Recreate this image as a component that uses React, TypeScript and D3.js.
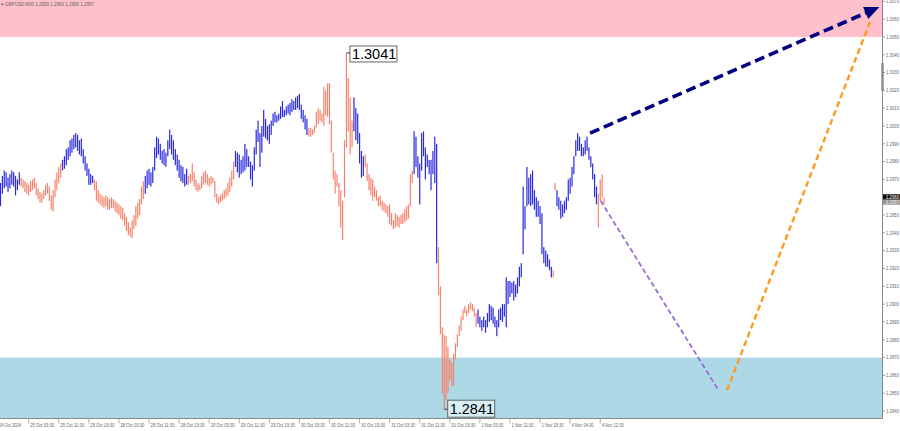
import React from "react";
import * as d3 from "d3";

const highs = [
1.2968,1.2972,1.2975,1.2974,1.2971,1.2973,1.2975,1.2974,1.2972,1.2970,
1.2974,1.2971,1.2970,1.2969,1.2968,1.2967,1.2969,1.2970,1.2971,1.2968,
1.2965,1.2963,1.2962,1.2964,1.2967,1.2968,1.2966,1.2961,1.2964,1.2970,
1.2974,1.2977,1.2979,1.2981,1.2983,1.2987,1.2988,1.2992,1.2993,1.2995,
1.2996,1.2995,1.2992,1.2993,1.2987,1.2983,1.2979,1.2976,1.2973,1.2972,
1.2970,1.2969,1.2964,1.2962,1.2961,1.2960,1.2961,1.2960,1.2959,1.2960,
1.2959,1.2958,1.2957,1.2956,1.2955,1.2954,1.2951,1.2949,1.2946,1.2943,
1.2947,1.2950,1.2955,1.2957,1.2959,1.2966,1.2969,1.2972,1.2975,1.2976,
1.2974,1.2977,1.2988,1.2994,1.2993,1.2990,1.2986,1.2987,1.2985,1.2992,
1.2998,1.2995,1.2992,1.2987,1.2984,1.2981,1.2978,1.2977,1.2973,1.2976,
1.2972,1.2973,1.2979,1.2974,1.2970,1.2968,1.2967,1.2972,1.2974,1.2975,
1.2973,1.2971,1.2972,1.2971,1.2969,1.2962,1.2960,1.2961,1.2962,1.2964,
1.2965,1.2968,1.2971,1.2975,1.2980,1.2986,1.2985,1.2984,1.2981,1.2983,
1.2990,1.2987,1.2983,1.2980,1.2978,1.2988,1.2998,1.3003,1.2996,1.3000,
1.3009,1.3004,1.3000,1.3001,1.3003,1.3007,1.3008,1.3006,1.3007,1.3011,
1.3014,1.3009,1.3011,1.3012,1.3013,1.3015,1.3014,1.3016,1.3017,1.3018,
1.3012,1.3009,1.3006,1.3004,1.2999,1.2999,1.2998,1.3000,1.3008,1.3010,
1.3009,1.3007,1.3022,1.3020,1.3024,1.3024,1.3003,1.2985,1.2975,1.2973,
1.2968,1.2964,1.2958,1.2992,1.3041,1.3027,1.3016,1.3003,1.3016,1.3010,
1.3007,1.2996,1.2986,1.2983,1.2984,1.2979,1.2973,1.2971,1.2970,1.2966,
1.2964,1.2960,1.2961,1.2958,1.2957,1.2956,1.2955,1.2956,1.2951,1.2947,
1.2951,1.2950,1.2949,1.2950,1.2951,1.2953,1.2955,1.2956,1.2973,1.2975,
1.2997,1.2994,1.2983,1.2979,1.2996,1.2997,1.2988,1.2984,1.2981,1.2981,
1.2986,1.2994,1.2990,1.2932,1.2910,1.2887,1.2883,1.2882,1.2876,1.2869,
1.2867,1.2872,1.2878,1.2883,1.2888,1.2893,1.2897,1.2899,1.2897,1.2900,
1.2901,1.2900,1.2898,1.2895,1.2897,1.2893,1.2891,1.2893,1.2891,1.2895,
1.2900,1.2899,1.2898,1.2893,1.2891,1.2897,1.2898,1.2900,1.2900,1.2915,
1.2913,1.2913,1.2912,1.2913,1.2911,1.2915,1.2921,1.2923,1.2966,1.2955,
1.2977,1.2971,1.2973,1.2975,1.2964,1.2960,1.2958,1.2955,1.2951,1.2932,
1.2930,1.2928,1.2925,1.2921,1.2919,1.2968,1.2964,1.2960,1.2958,1.2956,
1.2958,1.2960,1.2970,1.2971,1.2977,1.2983,1.2992,1.2996,1.2994,1.2990,
1.2988,1.2992,1.2994,1.2988,1.2983,1.2979,1.2973,1.2966,1.2962,1.2970,
1.2973,1.2960];

const lows = [
1.2955,1.2962,1.2965,1.2966,1.2963,1.2965,1.2967,1.2966,1.2961,1.2964,
1.2967,1.2966,1.2965,1.2963,1.2962,1.2961,1.2963,1.2964,1.2965,1.2961,
1.2959,1.2957,1.2957,1.2959,1.2961,1.2962,1.2958,1.2953,1.2952,1.2960,
1.2964,1.2968,1.2971,1.2975,1.2976,1.2978,1.2981,1.2983,1.2985,1.2987,
1.2988,1.2986,1.2984,1.2983,1.2979,1.2975,1.2972,1.2967,1.2967,1.2968,
1.2964,1.2958,1.2957,1.2956,1.2955,1.2954,1.2955,1.2953,1.2953,1.2954,
1.2954,1.2952,1.2951,1.2950,1.2948,1.2947,1.2944,1.2941,1.2939,1.2938,
1.2937,1.2942,1.2944,1.2948,1.2950,1.2956,1.2959,1.2962,1.2965,1.2967,
1.2966,1.2968,1.2975,1.2982,1.2984,1.2981,1.2979,1.2978,1.2977,1.2983,
1.2987,1.2984,1.2981,1.2978,1.2975,1.2971,1.2969,1.2968,1.2966,1.2967,
1.2967,1.2968,1.2969,1.2966,1.2964,1.2963,1.2964,1.2965,1.2967,1.2968,
1.2967,1.2966,1.2967,1.2968,1.2960,1.2957,1.2956,1.2957,1.2958,1.2959,
1.2960,1.2961,1.2963,1.2966,1.2970,1.2977,1.2974,1.2971,1.2973,1.2974,
1.2975,1.2977,1.2977,1.2970,1.2966,1.2975,1.2984,1.2991,1.2977,1.2985,
1.2994,1.2993,1.2992,1.2990,1.2995,1.3000,1.3002,1.3002,1.3003,1.3004,
1.3005,1.3005,1.3006,1.3007,1.3006,1.3008,1.3009,1.3009,1.3010,1.3009,
1.3004,1.3002,1.2998,1.2995,1.2994,1.2994,1.2995,1.2996,1.2999,1.3001,
1.3003,1.3002,1.3000,1.3006,1.3005,1.3001,1.2985,1.2970,1.2962,1.2966,
1.2955,1.2943,1.2936,1.2960,1.2988,1.2997,1.2984,1.2988,1.2997,1.2992,
1.2990,1.2979,1.2971,1.2972,1.2977,1.2969,1.2964,1.2961,1.2958,1.2960,
1.2958,1.2955,1.2955,1.2953,1.2952,1.2951,1.2949,1.2945,1.2944,1.2942,
1.2943,1.2944,1.2943,1.2945,1.2945,1.2946,1.2947,1.2948,1.2955,1.2968,
1.2973,1.2977,1.2971,1.2956,1.2975,1.2983,1.2970,1.2977,1.2973,1.2964,
1.2973,1.2968,1.2923,1.2905,1.2883,1.2850,1.2841,1.2846,1.2850,1.2857,
1.2854,1.2854,1.2869,1.2876,1.2882,1.2885,1.2891,1.2895,1.2893,1.2895,
1.2897,1.2896,1.2893,1.2887,1.2889,1.2887,1.2885,1.2887,1.2884,1.2887,
1.2890,1.2891,1.2889,1.2887,1.2882,1.2887,1.2891,1.2890,1.2893,1.2887,
1.2900,1.2904,1.2906,1.2902,1.2904,1.2906,1.2910,1.2915,1.2928,1.2942,
1.2955,1.2956,1.2955,1.2956,1.2953,1.2949,1.2949,1.2945,1.2928,1.2923,
1.2921,1.2921,1.2919,1.2915,1.2915,1.2964,1.2955,1.2953,1.2948,1.2949,
1.2951,1.2953,1.2958,1.2962,1.2966,1.2973,1.2983,1.2986,1.2986,1.2983,
1.2983,1.2984,1.2986,1.2981,1.2977,1.2970,1.2960,1.2956,1.2943,1.2958,
1.2960,1.2956];

// first bar index of each trend run; runs alternate up (blue) / down (salmon), starting up
const trendStarts = [0, 11, 33, 50, 77, 100, 125, 164, 188, 194, 220, 233, 254, 294, 296, 318];

const priceTicks = d3.range(1.284, 1.30701, 0.001);

const timeLabels = [
  "25 Oct 03:30","25 Oct 11:30","25 Oct 19:30","28 Oct 03:30","28 Oct 11:30","28 Oct 19:30",
  "29 Oct 03:30","29 Oct 11:30","29 Oct 19:30","30 Oct 03:30","30 Oct 11:30","30 Oct 19:30",
  "31 Oct 03:30","31 Oct 11:30","31 Oct 19:30","1 Nov 03:30","1 Nov 11:30","1 Nov 19:30",
  "4 Nov 04:30","4 Nov 12:30"];
const firstTimeLabel = "24 Oct 2024";
const headerText = "\u25BE GBPUSD,M30  1.2959 1.2960 1.2956 1.2957";

const resistanceZone = [1.3050, 1.3080];
const supportZone = [1.2830, 1.2870];

const navyPath = [{ bar: 313.6, price: 1.2996 }, { bar: 467.5, price: 1.30668 }];
const purplePath = [{ bar: 319.2, price: 1.2958 }, { bar: 381.6, price: 1.28522 }];
const orangePath = [{ bar: 386.4, price: 1.28516 }, { bar: 462.5, price: 1.30584 }];

const bidPrice = 1.2960;
const lastPrice = 1.2957;

const W = 900, H = 431;
const plotRight = 882.5;
const plotBottom = 418.5;
const BLUE = "#2a2ade";
const SALMON = "#f6836d";

export default function App() {
  const step = 1.88;
  const xs = d3.scaleLinear().domain([0, 1]).range([0.5, 0.5 + step]);
  const ys = d3.scaleLinear().domain([1.284, 1.307]).range([411, 1.3]);

  const dirOf = (i: number) => {
    let k = 0;
    for (let j = 0; j < trendStarts.length; j++) if (i >= trendStarts[j]) k = j;
    return k % 2 === 0;
  };

  const hiIdx = d3.maxIndex(highs);
  const loIdx = d3.minIndex(lows);

  const line = d3.line<{ bar: number; price: number }>().x(d => xs(d.bar)).y(d => ys(d.price));

  const a0 = navyPath[0], a1 = navyPath[1];
  const tx = xs(a1.bar), ty = ys(a1.price);
  const ang = Math.atan2(ty - ys(a0.price), tx - xs(a0.bar));
  const hl = 15, hw = 6.5;
  const bx = tx - hl * Math.cos(ang), by = ty - hl * Math.sin(ang);
  const head = [
    [tx, ty],
    [bx + hw * Math.sin(ang), by - hw * Math.cos(ang)],
    [bx - hw * Math.sin(ang), by + hw * Math.cos(ang)],
  ];
  const navyLine = line([a0, { bar: xs.invert(tx - hl * 0.8 * Math.cos(ang)), price: ys.invert(ty - hl * 0.8 * Math.sin(ang)) }]);

  const labelFont = "'Liberation Sans', Arial, sans-serif";

  return (
    <svg width={W} height={H} style={{ position: "fixed", left: 0, top: 0, background: "#fff" }}>
      <rect x={0} y={0} width={W} height={H} fill="#fff" />
      <rect x={0} y={0} width={plotRight} height={ys(resistanceZone[0])} fill="#ffc0cb" />
      <rect x={0} y={ys(supportZone[1])} width={plotRight} height={plotBottom - ys(supportZone[1])} fill="#add8e6" />

      {highs.map((h, i) => {
        const y1 = ys(h), y2 = ys(lows[i]);
        return (
          <rect key={i} x={xs(i) - 0.6} y={y1} width={1.2} height={Math.max(1, y2 - y1)}
            fill={dirOf(i) ? BLUE : SALMON} />
        );
      })}

      <path d={line(purplePath) || ""} stroke="#9b6bd6" strokeWidth={1.8} strokeDasharray="5,3" fill="none" />
      <path d={line(orangePath) || ""} stroke="#ff9a1f" strokeWidth={2.4} strokeDasharray="6,3.5" fill="none" />
      <path d={navyLine || ""} stroke="#000080" strokeWidth={3.6} strokeDasharray="10,5" fill="none" />
      <polygon points={head.map(p => p.join(",")).join(" ")} fill="#000080" />

      {(() => {
        const hx = xs(hiIdx), hy = ys(highs[hiIdx]);
        const lx = xs(loIdx), ly = ys(lows[loIdx]);
        return (
          <g fontFamily={labelFont} fontSize={14.5} fill="#000">
            <line x1={hx} y1={hy} x2={hx + 4} y2={hy} stroke="#333" strokeWidth={1} />
            <rect x={hx + 3.5} y={hy - 7} width={47} height={16} fill="#fff" stroke="#666" strokeWidth={1} />
            <text x={hx + 5.5} y={hy + 6.3}>{highs[hiIdx].toFixed(4)}</text>
            <line x1={lx} y1={ly} x2={lx + 4} y2={ly} stroke="#333" strokeWidth={1} />
            <rect x={lx + 3.5} y={ly - 9} width={47} height={17} fill="#d7eef6" stroke="#666" strokeWidth={1} />
            <text x={lx + 5.5} y={ly + 5}>{lows[loIdx].toFixed(4)}</text>
          </g>
        );
      })()}

      <line x1={plotRight} y1={0} x2={plotRight} y2={plotBottom} stroke="#888" strokeWidth={1} />
      <line x1={0} y1={plotBottom} x2={plotRight} y2={plotBottom} stroke="#888" strokeWidth={1} />
      <rect x={plotRight - 1.2} y={63} width={2.4} height={28} fill="#8a8a8a" />
      <g fontFamily={labelFont} fontSize={5} fill="#666">
        {priceTicks.map((p, i) => (
          <g key={i}>
            <line x1={plotRight} x2={plotRight + 2.5} y1={ys(p)} y2={ys(p)} stroke="#888" strokeWidth={0.8} />
            <text x={plotRight + 3.5} y={ys(p) + 1.8} textLength={13} lengthAdjust="spacingAndGlyphs">{p.toFixed(4)}</text>
          </g>
        ))}
        <rect x={plotRight + 0.5} y={ys(bidPrice) - 3} width={W - plotRight} height={5.5} fill="#111" />
        <text x={plotRight + 3.5} y={ys(bidPrice) + 1.6} fill="#fff" textLength={13} lengthAdjust="spacingAndGlyphs">{bidPrice.toFixed(4)}</text>
        <rect x={plotRight + 0.5} y={ys(bidPrice) + 2.5} width={W - plotRight} height={5} fill="#999" />
        <text x={plotRight + 3.5} y={ys(bidPrice) + 6.8} fill="#eee" textLength={13} lengthAdjust="spacingAndGlyphs">{lastPrice.toFixed(4)}</text>
      </g>
      <g fontFamily={labelFont} fontSize={5} fill="#666">
        <text x={-1} y={426.5} textLength={22} lengthAdjust="spacingAndGlyphs">{firstTimeLabel}</text>
        {timeLabels.map((t, k) => {
          const xt = xs(15 + 16 * k);
          return (
            <g key={k}>
              <line x1={xt} x2={xt} y1={plotBottom} y2={plotBottom + 5} stroke="#999" strokeWidth={0.8} />
              <text x={xt + 1.5} y={426.5} textLength={t.length >= 12 ? 24 : 22} lengthAdjust="spacingAndGlyphs">{t}</text>
            </g>
          );
        })}
      </g>
      <text x={1} y={6} fontFamily={labelFont} fontSize={5} fill="#666" textLength={93} lengthAdjust="spacingAndGlyphs">{headerText}</text>
    </svg>
  );
}
